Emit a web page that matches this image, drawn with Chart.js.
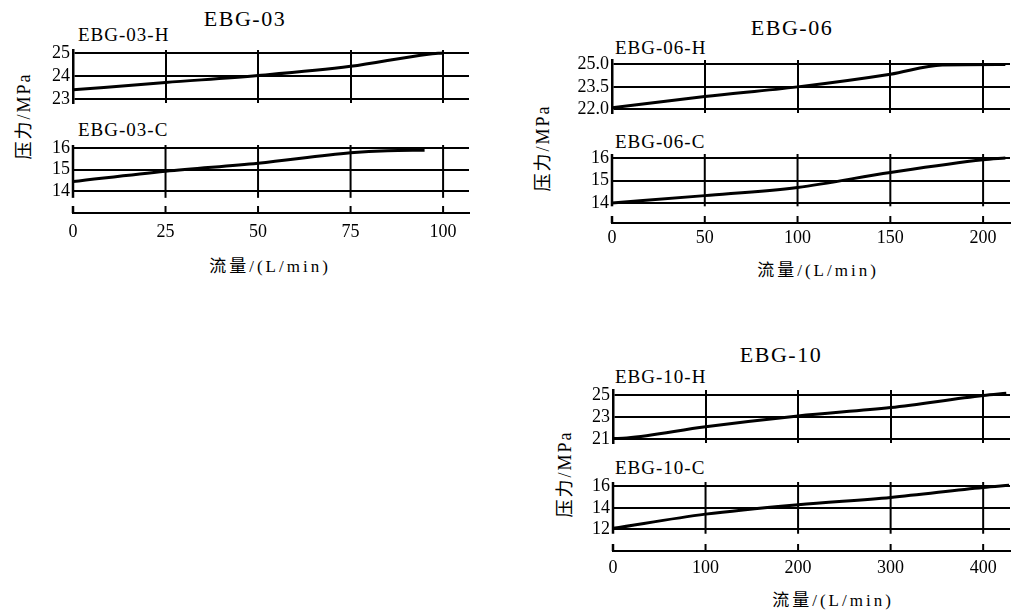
<!DOCTYPE html>
<html lang="zh">
<head>
<meta charset="utf-8">
<title>EBG 压力-流量特性</title>
<script src="https://cdn.jsdelivr.net/npm/chart.js@4.4.0/dist/chart.umd.min.js"></script>
<style>
  html, body { margin: 0; padding: 0; background: #fff; }
  body { width: 1012px; height: 615px; position: relative; overflow: hidden; color: #000;
         font-family: 'Liberation Serif', 'Noto Sans CJK SC', serif; }
  .caja { position: absolute; }
  .caja canvas { display: block; }
  .titulo { position: absolute; font-size: 22px; letter-spacing: 1.5px; transform: translate(-50%, -50%); white-space: nowrap; }
  .sub { position: absolute; font-size: 19px; letter-spacing: 1px; transform: translateY(-50%); white-space: nowrap; }
  .ejeX { position: absolute; font-size: 17px; letter-spacing: 3px; transform: translate(-50%, -50%); white-space: nowrap; }
  .ejeY { position: absolute; font-size: 18px; letter-spacing: 2px; transform: translate(-50%, -50%) rotate(-90deg); white-space: nowrap; }
</style>
</head>
<body>
  <div class="titulo" style="left:245px; top:19px">EBG-03</div>
  <div class="titulo" style="left:792px; top:28px">EBG-06</div>
  <div class="titulo" style="left:781px; top:355px">EBG-10</div>

  <div class="sub" style="left:78px; top:35px">EBG-03-H</div>
  <div class="sub" style="left:78px; top:130px">EBG-03-C</div>
  <div class="sub" style="left:615px; top:48px">EBG-06-H</div>
  <div class="sub" style="left:615px; top:142px">EBG-06-C</div>
  <div class="sub" style="left:615px; top:377px">EBG-10-H</div>
  <div class="sub" style="left:615px; top:468px">EBG-10-C</div>

  <div class="ejeY" style="left:22px; top:116px">压力/MPa</div>
  <div class="ejeY" style="left:541px; top:148px">压力/MPa</div>
  <div class="ejeY" style="left:563px; top:474px">压力/MPa</div>

  <div class="ejeX" style="left:270px; top:264px">流量/(L/min)</div>
  <div class="ejeX" style="left:818px; top:268px">流量/(L/min)</div>
  <div class="ejeX" style="left:833px; top:598px">流量/(L/min)</div>

<script>
// ---- valores (流量 L/min -> 压力 MPa) ----
const ticksX03 = [0, 25, 50, 75, 100];
const ticksX06 = [0, 50, 100, 150, 200];
const ticksX10 = [0, 100, 200, 300, 400];

const ticksY03H = [23, 24, 25];
const ticksY03C = [14, 15, 16];
const ticksY06H = [22.0, 23.5, 25.0];
const ticksY06C = [14, 15, 16];
const ticksY10H = [21, 23, 25];
const ticksY10C = [12, 14, 16];

const caudal03H = [0, 25, 50, 75, 96, 100];
const presion03H = [23.4, 23.72, 24.02, 24.42, 24.95, 25.0];
const caudal03C = [0, 25, 50, 75, 85, 95];
const presion03C = [14.45, 14.93, 15.3, 15.78, 15.88, 15.9];

const caudal06H = [0, 50, 100, 150, 178, 212];
const presion06H = [22.1, 22.85, 23.5, 24.35, 24.97, 25.0];
const caudal06C = [0, 50, 100, 150, 200, 212];
const presion06C = [14.0, 14.33, 14.7, 15.37, 15.94, 16.02];

const caudal10H = [0, 15, 100, 200, 300, 400, 425];
const presion10H = [21.05, 21.1, 22.12, 23.1, 23.86, 24.95, 25.15];
const caudal10C = [0, 100, 200, 300, 400, 428];
const presion10C = [12.1, 13.42, 14.3, 14.97, 15.9, 16.1];

// ---- geometría de cada panel (px de la página) ----
const PAD = 14;
const EJE_X = 34;
const fuenteTick = { family: "'Liberation Serif', serif", size: 18 };

const paneles = [
  { tx: ticksX03, ty: ticksY03H, q: caudal03H, p: presion03H, xMax: 107, yMin: 22.83, yMax: 25.13, left: 73, top: 50, w: 396, h: 53, yW: 32 },
  { tx: ticksX03, ty: ticksY03C, q: caudal03C, p: presion03C, xMax: 107, yMin: 13.0, yMax: 16.14, left: 73, top: 145, w: 396, h: 68, yW: 32, corte: 13.7, padX: 8 },
  { tx: ticksX06, ty: ticksY06H, q: caudal06H, p: presion06H, xMax: 214.5, yMin: 21.75, yMax: 25.3, left: 612, top: 60, w: 398, h: 53, yW: 50, fmt: (v) => v.toFixed(1) },
  { tx: ticksX06, ty: ticksY06C, q: caudal06C, p: presion06C, xMax: 214.5, yMin: 13.1, yMax: 16.2, left: 612, top: 154, w: 398, h: 69, yW: 50, corte: 13.85, padX: 4 },
  { tx: ticksX10, ty: ticksY10H, q: caudal10H, p: presion10H, xMax: 429, yMin: 20.65, yMax: 25.45, left: 613, top: 390, w: 397, h: 53, yW: 32 },
  { tx: ticksX10, ty: ticksY10C, q: caudal10C, p: presion10C, xMax: 429, yMin: 10.0, yMax: 16.4, left: 613, top: 482, w: 397, h: 69, yW: 32, corte: 11.6, padX: 6 }
];

// rejilla vertical cortada + marcas hacia arriba del eje X (paneles inferiores)
const rejillaCortada = {
  id: 'rejillaCortada',
  beforeDatasetsDraw(chart, args, opts) {
    if (opts.corte == null) return;
    const { ctx, chartArea } = chart;
    const sx = chart.scales.x, sy = chart.scales.y;
    const yCorte = sy.getPixelForValue(opts.corte);
    ctx.save();
    ctx.strokeStyle = '#000';
    sx.ticks.forEach((t, i) => {
      const px = sx.getPixelForValue(t.value);
      ctx.lineWidth = i === 0 ? 2.5 : 2;
      ctx.beginPath();
      ctx.moveTo(px, chartArea.top);
      ctx.lineTo(px, yCorte);
      ctx.stroke();
      ctx.beginPath();
      ctx.moveTo(px, chartArea.bottom);
      ctx.lineTo(px, chartArea.bottom - 7);
      ctx.stroke();
    });
    ctx.restore();
  }
};
Chart.register(rejillaCortada);

function crearPanel(p) {
  const conEje = p.corte != null;
  const caja = document.createElement('div');
  caja.className = 'caja';
  caja.style.left = (p.left - p.yW) + 'px';
  caja.style.top = (p.top - PAD) + 'px';
  const cv = document.createElement('canvas');
  cv.width = p.yW + p.w + 3;
  cv.height = PAD + p.h + (conEje ? EJE_X : PAD);
  caja.appendChild(cv);
  document.body.appendChild(caja);

  return new Chart(cv, {
    type: 'line',
    data: {
      datasets: [{
        data: p.q.map((v, i) => ({ x: v, y: p.p[i] })),
        borderColor: '#000', borderWidth: 3, pointRadius: 0,
        cubicInterpolationMode: 'monotone', fill: false
      }]
    },
    options: {
      responsive: false, animation: false, events: [],
      layout: { padding: { top: PAD, bottom: conEje ? 0 : PAD, left: 0, right: 3 } },
      plugins: { legend: { display: false }, tooltip: { enabled: false }, rejillaCortada: { corte: p.corte } },
      scales: {
        x: {
          type: 'linear', min: 0, max: p.xMax,
          afterBuildTicks: (s) => { s.ticks = p.tx.map((v) => ({ value: v })); },
          afterFit: (s) => { s.height = conEje ? EJE_X : 0; },
          grid: { drawOnChartArea: !conEje, drawTicks: false, color: '#000', lineWidth: 2 },
          border: { display: conEje, color: '#000', width: 2 },
          ticks: { display: conEje, padding: p.padX || 0, color: '#000', font: fuenteTick, maxRotation: 0, callback: (v) => String(v) }
        },
        y: {
          type: 'linear', min: p.yMin, max: p.yMax,
          afterBuildTicks: (s) => { s.ticks = p.ty.map((v) => ({ value: v })); },
          afterFit: (s) => { s.width = p.yW; },
          grid: { color: '#000', lineWidth: 2, drawTicks: false },
          border: { display: !conEje, color: '#000', width: 2.5 },
          ticks: { color: '#000', font: fuenteTick, padding: 3, callback: p.fmt || ((v) => String(v)) }
        }
      }
    }
  });
}

paneles.forEach(crearPanel);
</script>
</body>
</html>
